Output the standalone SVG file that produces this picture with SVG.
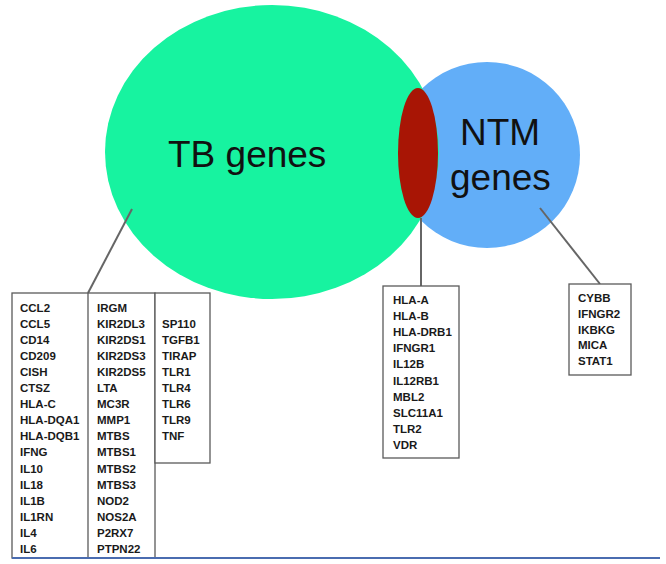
<svg xmlns="http://www.w3.org/2000/svg" width="666" height="564" viewBox="0 0 666 564">
<style>
.big{font-family:"Liberation Sans",Arial,sans-serif;font-size:37px;fill:#111}
.g{font-family:"Liberation Sans",Arial,sans-serif;font-size:11.5px;font-weight:bold;fill:#1a1a1a}
.box{fill:#fff;stroke:#5a5a5a;stroke-width:1.3}
.conn{stroke:#666;stroke-width:2;fill:none}
</style>
<rect width="666" height="564" fill="#fff"/>
<g id="ntm">
<circle cx="487" cy="155" r="93" fill="#62AEF8"/>
<text class="big" x="460" y="145">NTM</text>
<text class="big" x="450" y="190">genes</text>
</g>
<g id="tb">
<ellipse cx="272" cy="152" rx="167" ry="147" fill="#17F3A0"/>
<text class="big" x="168" y="167">TB genes</text>
</g>
<g id="overlap">
<ellipse cx="418" cy="153" rx="20" ry="65" fill="#A81505"/>
</g>
<g id="connectors">
<line class="conn" x1="132" y1="209" x2="88" y2="293"/>
<line class="conn" x1="421" y1="218" x2="421" y2="286"/>
<line class="conn" x1="540" y1="208" x2="600" y2="284"/>
</g>
<g id="tb-list">
<rect class="box" x="12" y="293" width="143" height="265"/>
<line class="box" x1="88" y1="293" x2="88" y2="558"/>
<rect class="box" x="155" y="293" width="55" height="170"/>
<text class="g" y="311.5"><tspan x="20">CCL2</tspan><tspan x="20" dy="16.1">CCL5</tspan><tspan x="20" dy="16.1">CD14</tspan><tspan x="20" dy="16.1">CD209</tspan><tspan x="20" dy="16.1">CISH</tspan><tspan x="20" dy="16.1">CTSZ</tspan><tspan x="20" dy="16.1">HLA-C</tspan><tspan x="20" dy="16.1">HLA-DQA1</tspan><tspan x="20" dy="16.1">HLA-DQB1</tspan><tspan x="20" dy="16.1">IFNG</tspan><tspan x="20" dy="16.1">IL10</tspan><tspan x="20" dy="16.1">IL18</tspan><tspan x="20" dy="16.1">IL1B</tspan><tspan x="20" dy="16.1">IL1RN</tspan><tspan x="20" dy="16.1">IL4</tspan><tspan x="20" dy="16.1">IL6</tspan></text>
<text class="g" y="311.5"><tspan x="97">IRGM</tspan><tspan x="97" dy="16.1">KIR2DL3</tspan><tspan x="97" dy="16.1">KIR2DS1</tspan><tspan x="97" dy="16.1">KIR2DS3</tspan><tspan x="97" dy="16.1">KIR2DS5</tspan><tspan x="97" dy="16.1">LTA</tspan><tspan x="97" dy="16.1">MC3R</tspan><tspan x="97" dy="16.1">MMP1</tspan><tspan x="97" dy="16.1">MTBS</tspan><tspan x="97" dy="16.1">MTBS1</tspan><tspan x="97" dy="16.1">MTBS2</tspan><tspan x="97" dy="16.1">MTBS3</tspan><tspan x="97" dy="16.1">NOD2</tspan><tspan x="97" dy="16.1">NOS2A</tspan><tspan x="97" dy="16.1">P2RX7</tspan><tspan x="97" dy="16.1">PTPN22</tspan></text>
<text class="g" y="327.6"><tspan x="162">SP110</tspan><tspan x="162" dy="16.1">TGFB1</tspan><tspan x="162" dy="16.1">TIRAP</tspan><tspan x="162" dy="16.1">TLR1</tspan><tspan x="162" dy="16.1">TLR4</tspan><tspan x="162" dy="16.1">TLR6</tspan><tspan x="162" dy="16.1">TLR9</tspan><tspan x="162" dy="16.1">TNF</tspan></text>
</g>
<g id="shared-list">
<rect class="box" x="383" y="286" width="76" height="172"/>
<text class="g" y="304"><tspan x="393">HLA-A</tspan><tspan x="393" dy="16.1">HLA-B</tspan><tspan x="393" dy="16.1">HLA-DRB1</tspan><tspan x="393" dy="16.1">IFNGR1</tspan><tspan x="393" dy="16.1">IL12B</tspan><tspan x="393" dy="16.1">IL12RB1</tspan><tspan x="393" dy="16.1">MBL2</tspan><tspan x="393" dy="16.1">SLC11A1</tspan><tspan x="393" dy="16.1">TLR2</tspan><tspan x="393" dy="16.1">VDR</tspan></text>
</g>
<g id="ntm-list">
<rect class="box" x="569" y="284" width="62" height="91"/>
<text class="g" y="302"><tspan x="578">CYBB</tspan><tspan x="578" dy="15.8">IFNGR2</tspan><tspan x="578" dy="15.8">IKBKG</tspan><tspan x="578" dy="15.8">MICA</tspan><tspan x="578" dy="15.8">STAT1</tspan></text>
</g>
<line x1="12" y1="558" x2="660" y2="558" stroke="#4A6CB0" stroke-width="2"/>
</svg>
